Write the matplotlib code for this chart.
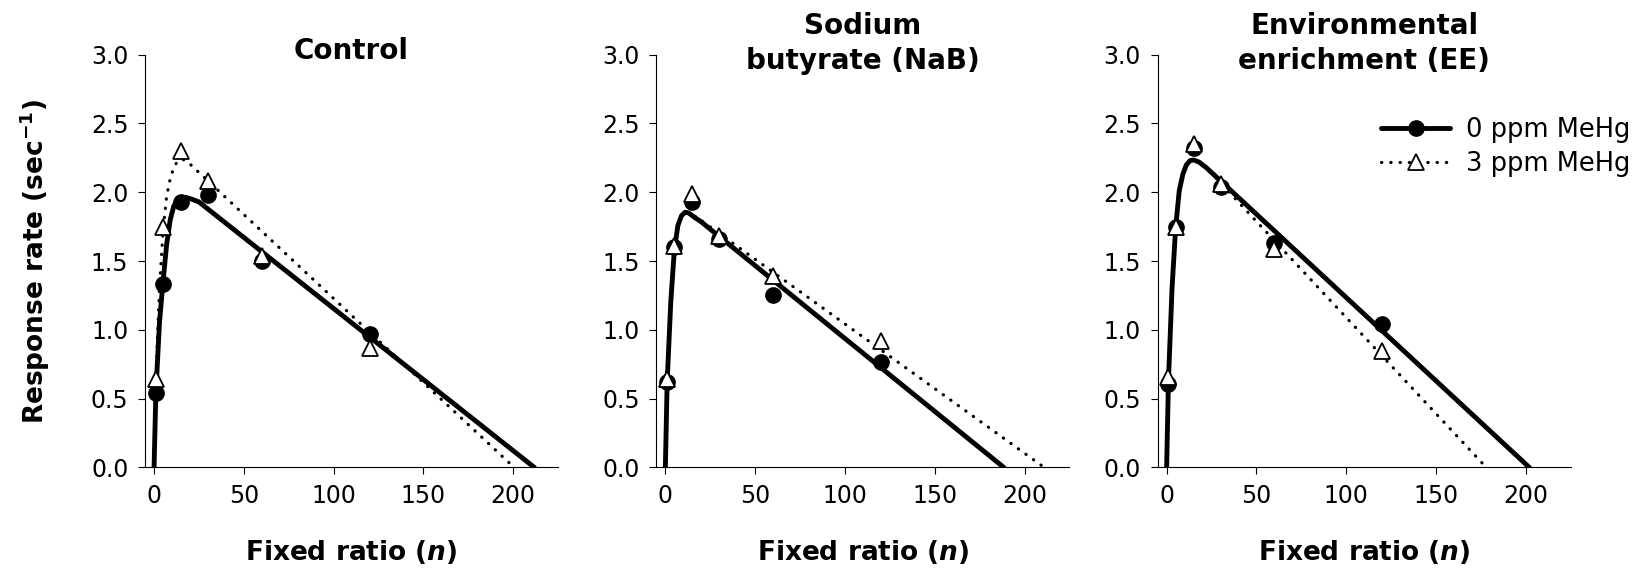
import matplotlib
matplotlib.use("Agg")
from matplotlib import pyplot as plt
from matplotlib.lines import Line2D
from matplotlib.ticker import FormatStrFormatter

plt.rcParams['font.family'] = ['DejaVu Sans']
plt.rcParams['mathtext.fontset'] = 'custom'
plt.rcParams['mathtext.rm'] = 'DejaVu Sans:bold'
plt.rcParams['mathtext.it'] = 'DejaVu Sans:italic:bold'
plt.rcParams['mathtext.default'] = 'rm'

fr = [1, 5, 15, 30, 60, 120]  # fixed ratio values tested

panel_titles = [["Control"], ["Sodium", "butyrate (NaB)"], ["Environmental", "enrichment (EE)"]]
series_labels = ["0 ppm MeHg", "3 ppm MeHg"]
x_ticks = [0, 50, 100, 150, 200]
y_ticks = [0.0, 0.5, 1.0, 1.5, 2.0, 2.5, 3.0]

# observed response rates (sec^-1) at each FR
ctrl_0 = [0.54, 1.33, 1.93, 1.98, 1.50, 0.97]
ctrl_3 = [0.64, 1.75, 2.30, 2.08, 1.54, 0.87]
nab_0 = [0.62, 1.60, 1.93, 1.66, 1.25, 0.77]
nab_3 = [0.64, 1.61, 1.99, 1.68, 1.39, 0.92]
ee_0 = [0.61, 1.75, 2.32, 2.04, 1.63, 1.04]
ee_3 = [0.66, 1.75, 2.35, 2.06, 1.59, 0.85]

# fitted curves, vertices
ctrl_fit0_x = [0, 1, 3, 5, 7, 9, 11, 13, 15, 18, 21, 25, 211.8]
ctrl_fit0_y = [0, 0.54, 1.05, 1.35, 1.62, 1.80, 1.90, 1.945, 1.96, 1.962, 1.95, 1.93, 0]
ctrl_fit3_x = [0, 1, 3, 5, 7, 9, 11, 13, 15, 17, 20, 200.5]
ctrl_fit3_y = [0, 0.64, 1.30, 1.72, 1.97, 2.10, 2.18, 2.225, 2.24, 2.235, 2.205, 0]
nab_fit0_x = [0, 1, 3, 5, 7, 9, 11, 13, 16, 20, 188.5]
nab_fit0_y = [0, 0.62, 1.20, 1.58, 1.76, 1.83, 1.855, 1.85, 1.82, 1.785, 0]
nab_fit3_x = [0, 1, 3, 5, 7, 9, 11, 13, 16, 20, 211]
nab_fit3_y = [0, 0.63, 1.20, 1.58, 1.76, 1.83, 1.855, 1.85, 1.83, 1.795, 0]
ee_fit0_x = [0, 1, 3, 5, 7, 9, 11, 13, 15, 18, 22, 202]
ee_fit0_y = [0, 0.63, 1.30, 1.74, 2.01, 2.13, 2.20, 2.23, 2.235, 2.22, 2.18, 0]
ee_fit3_x = [0, 1, 3, 5, 7, 9, 11, 13, 15, 18, 22, 178]
ee_fit3_y = [0, 0.63, 1.30, 1.74, 2.01, 2.13, 2.20, 2.23, 2.235, 2.22, 2.18, 0]

panels = [
    (ctrl_0, ctrl_3, ctrl_fit0_x, ctrl_fit0_y, ctrl_fit3_x, ctrl_fit3_y),
    (nab_0, nab_3, nab_fit0_x, nab_fit0_y, nab_fit3_x, nab_fit3_y),
    (ee_0, ee_3, ee_fit0_x, ee_fit0_y, ee_fit3_x, ee_fit3_y),
]

solid = dict(color='black', lw=3.5, solid_capstyle='round')
dotted = dict(color='black', lw=2.3, ls=(0, (0.1, 2.8)), dash_capstyle='round')
circ = dict(marker='o', ms=11, mfc='black', mec='black', ls='none')
tri = dict(marker='^', ms=11, mfc='white', mec='black', mew=1.3, ls='none')

fig = plt.figure(figsize=(16.43, 5.77), dpi=100)
lefts = [0.0883, 0.3995, 0.7046]

for i, (obs0, obs3, fx0, fy0, fx3, fy3) in enumerate(panels):
    ax = fig.add_axes([lefts[i], 0.1898, 0.2514, 0.7154])
    ax.plot(fx0, fy0, **solid, zorder=3)
    ax.plot(fx3, fy3, **dotted, zorder=3)
    ax.plot(fr, obs0, **circ, zorder=4)
    ax.plot(fr, obs3, **tri, zorder=5)

    ax.set_xlim(-5, 225)
    ax.set_ylim(0, 3)
    ax.set_xticks(x_ticks)
    ax.set_yticks(y_ticks)
    ax.yaxis.set_major_formatter(FormatStrFormatter('%.1f'))
    ax.spines['top'].set_visible(False)
    ax.spines['right'].set_visible(False)
    ax.tick_params(direction='out', length=5, width=0.8, labelsize=17, pad=7)

    ax.set_xlabel(r"Fixed ratio ($\mathit{n}$)", fontsize=19, fontweight='bold')
    ax.xaxis.set_label_coords(0.5, -0.17)
    if i == 0:
        ax.set_ylabel(r"Response rate (sec$^{-1}$)", fontsize=19, fontweight='bold')
        ax.yaxis.set_label_coords(-0.225, 0.5)

    # title lines, last line baseline just below axes top
    lines = panel_titles[i]
    base = 0.99 if len(lines) == 1 else 0.965
    for k, line in enumerate(reversed(lines)):
        ax.text(0.5, base + k * 0.086, line, transform=ax.transAxes, ha='center',
                va='baseline', fontsize=20, fontweight='bold')

handles = [Line2D([], [], **{**solid, 'marker': 'o', 'ms': 11, 'mfc': 'black', 'mec': 'black'}),
           Line2D([], [], **{**dotted, 'marker': '^', 'ms': 11, 'mfc': 'white', 'mec': 'black', 'mew': 1.3})]
fig.legend(handles, series_labels, loc='upper left', bbox_to_anchor=(0.8405, 0.7969),
           frameon=False, fontsize=18.5, handlelength=2.7, handletextpad=0.6,
           labelspacing=0.3, borderpad=0, borderaxespad=0)

fig.savefig("out.png", dpi=100)
